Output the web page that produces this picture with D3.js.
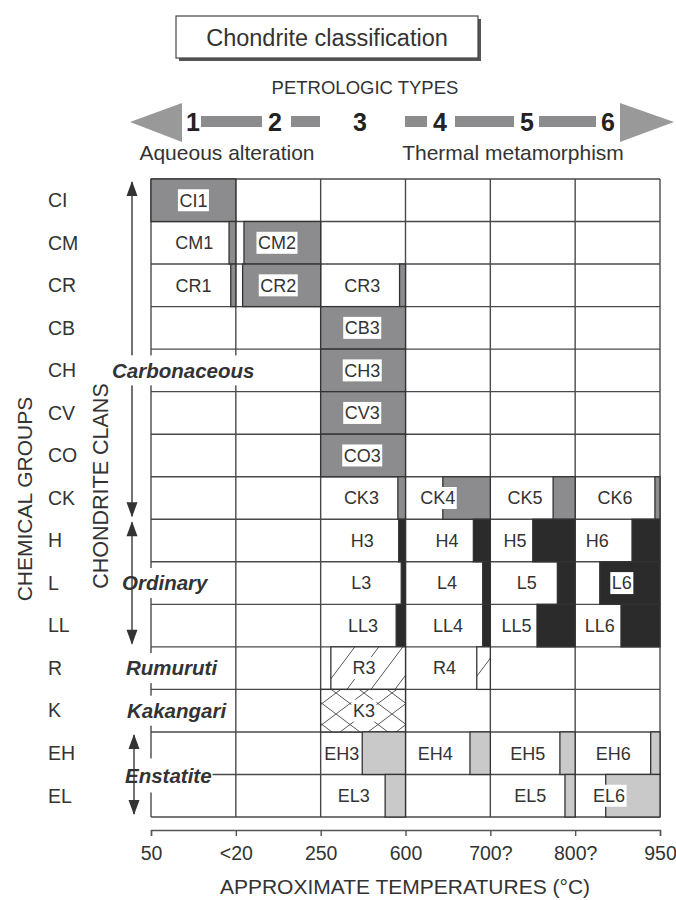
<!DOCTYPE html>
<html><head><meta charset="utf-8">
<script src="https://cdn.jsdelivr.net/npm/d3@7"></script>
<style>body{margin:0;background:#fff}svg{display:block}text{font-family:"Liberation Sans",Arial,sans-serif;fill:#333}</style>
</head><body>
<script>
// ---------- data ----------
const groups = ["CI","CM","CR","CB","CH","CV","CO","CK","H","L","LL","R","K","EH","EL"];
const petrologicTypes = ["1","2","3","4","5","6"];
const tempTicks = ["50","<20","250","600","700?","800?","950"];
// clans: name, first group, last group
const clans = [
  ["Carbonaceous","CI","CK"],
  ["Ordinary","H","LL"],
  ["Rumuruti","R","R"],
  ["Kakangari","K","K"],
  ["Enstatite","EH","EL"]
];
// shaded ranges along the petrologic-type scale (0..6): group, start, end, kind
const shaded = [
  ["CI",0,1,"c"],
  ["CM",0.92,1,"c"],["CM",1.096,2,"c"],
  ["CR",0.94,1,"c"],["CR",1.08,2,"c"],["CR",2.93,3,"c"],
  ["CB",2,3,"c"],["CH",2,3,"c"],["CV",2,3,"c"],["CO",2,3,"c"],
  ["CK",2.91,3,"c"],["CK",3.44,4,"c"],["CK",4.74,5,"c"],["CK",5.94,6,"c"],
  ["H",2.92,3,"o"],["H",3.80,4,"o"],["H",4.50,5,"o"],["H",5.67,6,"o"],
  ["L",2.95,3,"o"],["L",3.91,4,"o"],["L",4.79,5,"o"],["L",5.29,6,"o"],
  ["LL",2.89,3,"o"],["LL",3.91,4,"o"],["LL",4.55,5,"o"],["LL",5.54,6,"o"],
  ["R",2.12,3,"r"],["R",3.84,4,"r"],
  ["K",2,3,"k"],
  ["EH",2.49,3,"e"],["EH",3.76,4,"e"],["EH",4.82,5,"e"],["EH",5.89,6,"e"],
  ["EL",2.76,3,"e"],["EL",4.88,5,"e"],["EL",5.36,6,"e"]
];
// type labels: group, text, centre on the scale
const typeLabels = [
  ["CI","CI1",0.50],["CM","CM1",0.51],["CM","CM2",1.485],
  ["CR","CR1",0.50],["CR","CR2",1.50],["CR","CR3",2.49],
  ["CB","CB3",2.49],["CH","CH3",2.49],["CV","CV3",2.49],["CO","CO3",2.49],
  ["CK","CK3",2.48],["CK","CK4",3.38],["CK","CK5",4.41],["CK","CK6",5.47],
  ["H","H3",2.49],["H","H4",3.49],["H","H5",4.29],["H","H6",5.26],
  ["L","L3",2.48],["L","L4",3.49],["L","L5",4.43],["L","L6",5.55],
  ["LL","LL3",2.50],["LL","LL4",3.50],["LL","LL5",4.31],["LL","LL6",5.29],
  ["R","R3",2.51],["R","R4",3.46],["K","K3",2.51],
  ["EH","EH3",2.25],["EH","EH4",3.35],["EH","EH5",4.44],["EH","EH6",5.45],
  ["EL","EL3",2.39],["EL","EL5",4.47],["EL","EL6",5.40]
];
// header numerals and the gray bars between them
const typeNumberX = [193, 275, 360, 440, 527, 608];
const headerBars = [[201,262],[291,320],[405,427],[455,514],[539,596]];

const fills = {c:"#8c8c8e", o:"#2b2b2b", e:"#c9c9c9", r:"url(#hatch)", k:"url(#cross)"};

// ---------- drawing ----------
const W=676,H=900;
const svg = d3.select("body").append("svg").attr("width",W).attr("height",H);
const defs = svg.append("defs");
const ph = defs.append("pattern").attr("id","hatch").attr("patternUnits","userSpaceOnUse")
  .attr("width",24).attr("height",32);
ph.append("rect").attr("width",24).attr("height",32).attr("fill","#fff");
ph.append("path").attr("d","M0,32L24,0M-6,8L6,-8M18,40L30,24").attr("stroke","#444").attr("stroke-width",0.9);
const pc = defs.append("pattern").attr("id","cross").attr("patternUnits","userSpaceOnUse")
  .attr("width",28).attr("height",21);
pc.append("rect").attr("width",28).attr("height",21).attr("fill","#fff");
pc.append("path").attr("d","M0,0L28,21M0,21L28,0").attr("stroke","#444").attr("stroke-width",0.9);

const x = d3.scaleLinear().domain([0,6]).range([151,660]);
const y = d3.scaleBand().domain(groups).range([179,817]);
const bw = y.bandwidth();

// title box
const tg = svg.append("g");
tg.append("rect").attr("x",179).attr("y",19).attr("width",302).attr("height",42).attr("fill","#555");
tg.append("rect").attr("x",176).attr("y",16).attr("width",302).attr("height",42).attr("fill","#fff").attr("stroke","#444").attr("stroke-width",1.2);
tg.append("text").attr("x",327).attr("y",38).attr("dy","0.35em").attr("text-anchor","middle")
  .style("font-size","23.5px").text("Chondrite classification");

svg.append("text").attr("x",365).attr("y",88).attr("dy","0.35em").attr("text-anchor","middle")
  .style("font-size","18.5px").text("PETROLOGIC TYPES");

// big arrows
svg.append("path").attr("d","M130,122L182,103L182,142Z").attr("fill","#999");
svg.append("path").attr("d","M674,122L620,103L620,142Z").attr("fill","#999");
svg.selectAll(".hb").data(headerBars).join("rect")
  .attr("x",d=>d[0]).attr("y",116).attr("width",d=>d[1]-d[0]).attr("height",11).attr("fill","#8c8c8e");
svg.selectAll(".tn").data(petrologicTypes).join("text")
  .attr("x",(d,i)=>typeNumberX[i]).attr("y",122).attr("dy","0.36em").attr("text-anchor","middle")
  .style("font-size","25px").style("font-weight","bold").style("fill","#222").text(d=>d);
svg.append("text").attr("x",227).attr("y",153).attr("dy","0.35em").attr("text-anchor","middle")
  .style("font-size","21px").text("Aqueous alteration");
svg.append("text").attr("x",513).attr("y",153).attr("dy","0.35em").attr("text-anchor","middle")
  .style("font-size","21px").text("Thermal metamorphism");

// grid
const grid = svg.append("g").attr("stroke","#4a4a4a").attr("stroke-width",1.4);
d3.range(7).forEach(i=>grid.append("line").attr("x1",x(i)).attr("x2",x(i)).attr("y1",y.range()[0]).attr("y2",y.range()[1]));
groups.forEach(g=>grid.append("line").attr("x1",x(0)).attr("x2",x(6)).attr("y1",y(g)).attr("y2",y(g)));
grid.append("line").attr("x1",x(0)).attr("x2",x(6)).attr("y1",y.range()[1]).attr("y2",y.range()[1]);

// shaded ranges
svg.append("g").selectAll("rect").data(shaded).join("rect")
  .attr("x",d=>x(d[1])).attr("y",d=>y(d[0])).attr("width",d=>x(d[2])-x(d[1])).attr("height",bw)
  .attr("fill",d=>fills[d[3]]).attr("stroke","#333").attr("stroke-width",1.3);

// type labels with white boxes
const lg = svg.append("g");
typeLabels.forEach(d=>{
  const t = lg.append("text").attr("x",x(d[2])).attr("y",y(d[0])+bw/2).attr("dy","0.35em")
    .attr("text-anchor","middle").style("font-size","18px").text(d[1]);
  const b = t.node().getBBox();
  lg.insert("rect","text").attr("x",b.x-1.5).attr("y",y(d[0])+bw/2-11).attr("width",b.width+3).attr("height",22).attr("fill","#fff");
});

// chemical groups
svg.append("g").selectAll("text").data(groups).join("text")
  .attr("x",48).attr("y",g=>y(g)+bw/2).attr("dy","0.35em").style("font-size","19.5px").text(g=>g);

// rotated axis titles
svg.append("text").attr("transform","translate(25,499) rotate(-90)").attr("dy","0.35em")
  .attr("text-anchor","middle").style("font-size","21px").text("CHEMICAL GROUPS");
svg.append("text").attr("transform","translate(100,486) rotate(-90)").attr("dy","0.35em")
  .attr("text-anchor","middle").style("font-size","21.5px").text("CHONDRITE CLANS");

// clans
const cg = svg.append("g");
function arrowHead(xc, yTip, dir){
  cg.append("path").attr("d",`M${xc},${yTip}L${xc-5.5},${yTip-dir*15}L${xc+5.5},${yTip-dir*15}Z`).attr("fill","#333");
}
const clanX = {Carbonaceous:112, Ordinary:122, Rumuruti:126, Kakangari:127, Enstatite:125};
clans.forEach(c=>{
  const top = y(c[1]), bot = y(c[2])+bw;
  const ax = c[0]==="Enstatite" ? 134 : 132;
  let yc = (top+bot)/2;
  if(c[0]==="Carbonaceous") yc = y("CH")+bw/2;
  if(c[0]==="Enstatite") yc = y("EL")+1;
  if(c[1]!==c[2]){
    cg.append("line").attr("x1",ax).attr("x2",ax).attr("y1",top+3).attr("y2",bot-3).attr("stroke","#444").attr("stroke-width",1.5);
    arrowHead(ax, top+2, -1);
    arrowHead(ax, bot-2, 1);
  }
  const t = cg.append("text").attr("x",clanX[c[0]]).attr("y",yc).attr("dy","0.35em")
    .style("font-size","20.5px").style("font-weight","bold").style("font-style","italic").text(c[0]);
  const b = t.node().getBBox();
  const hh = c[0]==="Enstatite" ? 34 : 30;
  cg.insert("rect","text").attr("x",b.x-1).attr("y",yc-hh/2).attr("width",b.width+2).attr("height",hh).attr("fill","#fff");
});
cg.selectAll("text").raise();

// temperature axis
const axis = d3.axisBottom(x).tickValues(d3.range(7)).tickFormat((d,i)=>tempTicks[i])
  .tickSizeInner(6).tickSizeOuter(6).tickPadding(10);
const axg = svg.append("g").attr("transform","translate(0,830)").call(axis);
axg.select(".domain").attr("stroke","#555").attr("stroke-width",1.4);
axg.selectAll(".tick line").attr("stroke","#555").attr("stroke-width",1.4);
axg.selectAll(".tick text").style("font-size","19.5px").style("font-family","'Liberation Sans',Arial,sans-serif").attr("fill","#333");
svg.append("text").attr("x",405).attr("y",887).attr("dy","0.35em").attr("text-anchor","middle")
  .style("font-size","21px").text("APPROXIMATE TEMPERATURES (°C)");
</script>
</body></html>
